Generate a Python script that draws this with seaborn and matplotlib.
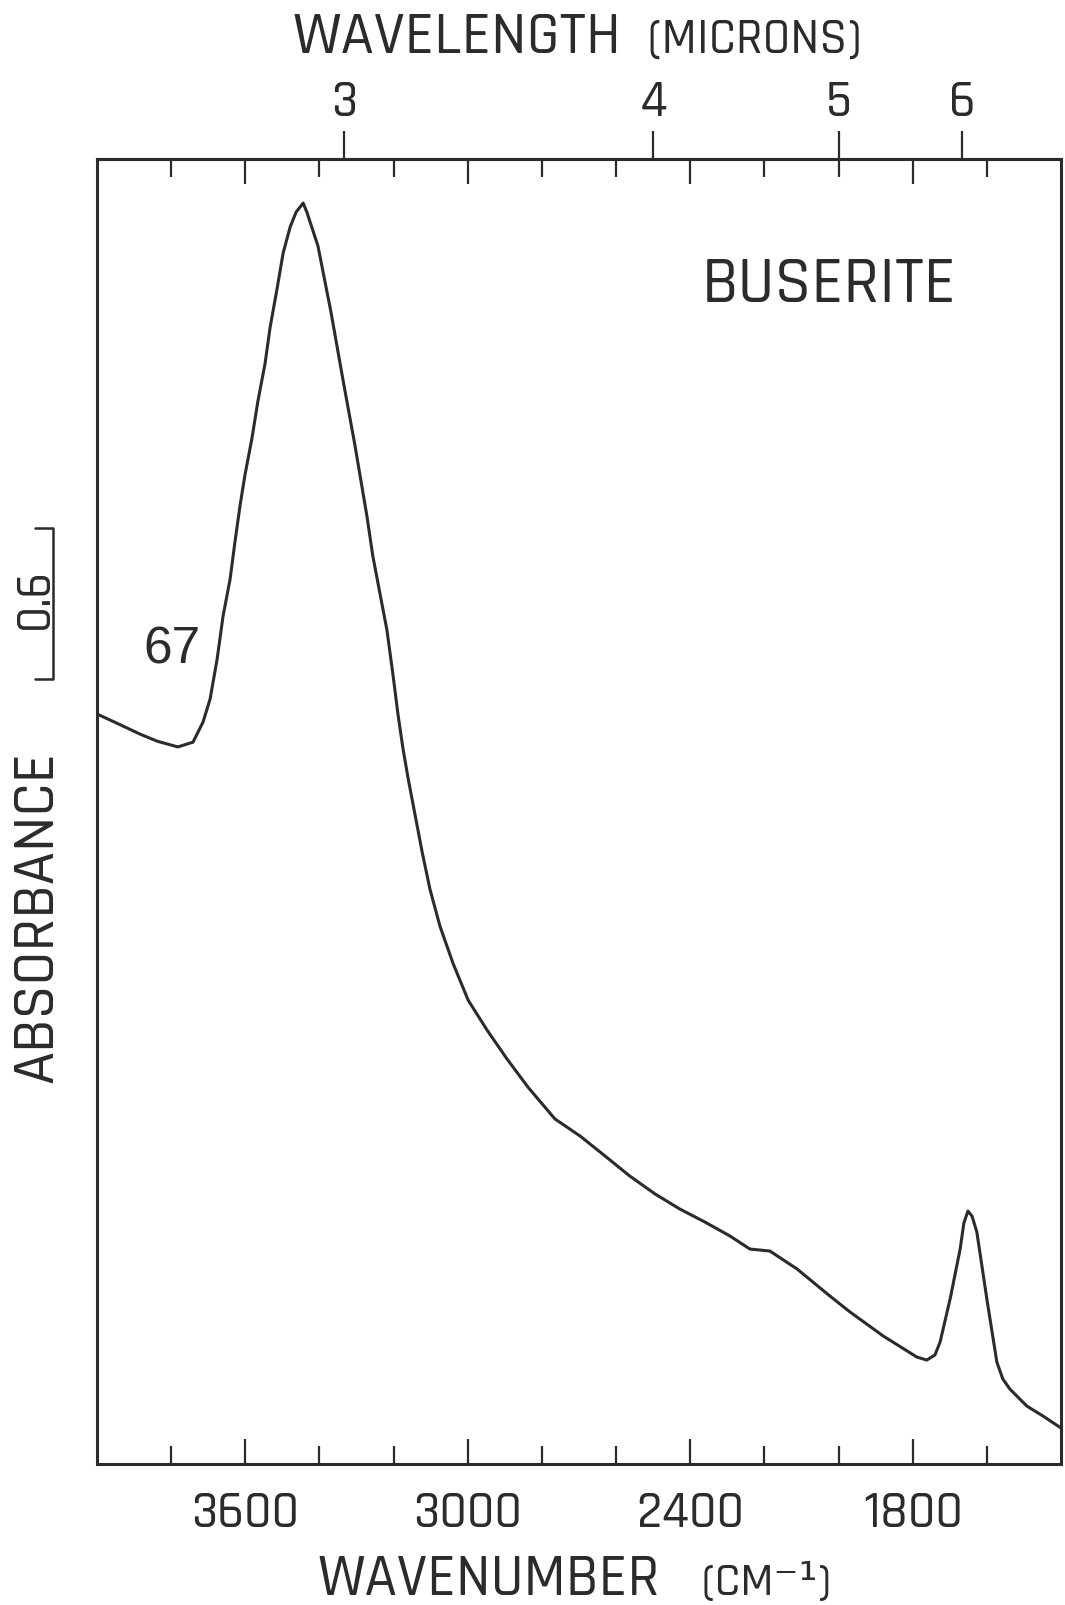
import numpy as np
import pandas as pd
import matplotlib
matplotlib.use("Agg")
import matplotlib.pyplot as plt
import matplotlib.transforms as mtransforms
from matplotlib.ticker import FixedLocator, NullLocator
import seaborn as sns

# IR absorbance spectrum of buserite (wavenumber in cm-1, absorbance with arbitrary offset)
wavenumber = [4000, 3930, 3884, 3838, 3782, 3741, 3714, 3695, 3676, 3660,
              3641, 3628, 3614, 3601, 3582, 3566, 3547, 3533, 3515, 3498,
              3479, 3463, 3444, 3434, 3404, 3369, 3337, 3304, 3272, 3256,
              3237, 3218, 3202, 3188, 3175, 3161, 3142, 3123, 3102, 3075,
              3040, 2999, 2948, 2894, 2838, 2765, 2697, 2630, 2563, 2495,
              2428, 2360, 2293, 2239, 2185, 2112, 2023, 1969, 1880, 1789,
              1762, 1740, 1726, 1699, 1672, 1662, 1651, 1640, 1627, 1600,
              1573, 1557, 1538, 1492, 1449, 1400]
absorbance = [2.980, 2.932, 2.900, 2.872, 2.849, 2.868, 2.948, 3.039, 3.198, 3.369,
              3.516, 3.663, 3.810, 3.929, 4.076, 4.223, 4.370, 4.517, 4.664, 4.811,
              4.915, 4.974, 5.010, 4.974, 4.839, 4.577, 4.311, 4.045, 3.766, 3.607,
              3.460, 3.313, 3.139, 2.976, 2.845, 2.725, 2.578, 2.431, 2.284, 2.137,
              1.990, 1.843, 1.724, 1.609, 1.498, 1.371, 1.303, 1.224, 1.144, 1.073,
              1.013, 0.961, 0.906, 0.854, 0.846, 0.775, 0.667, 0.604, 0.509, 0.425,
              0.413, 0.433, 0.485, 0.656, 0.854, 0.957, 1.005, 0.985, 0.922, 0.656,
              0.405, 0.338, 0.298, 0.230, 0.191, 0.143]

major_wavenumbers = [3600, 3000, 2400, 1800]
minor_wavenumbers = [3800, 3400, 3200, 2800, 2600, 2200, 2000, 1600]
major_labels = ["3600", "3000", "2400", "1800"]
wavelength_ticks = [3, 4, 5, 6]
wavelength_labels = ["3", "4", "5", "6"]

scale_bar_bottom = 3.119
scale_bar_size = 0.6

sample_name = "BUSERITE"
sample_number = "67"

INK = "#2b2b2b"
PLOTTER_FONT = ["Rajdhani", "DejaVu Sans"]

sns.set_theme(style="white")
plt.rcParams["font.family"] = PLOTTER_FONT
plt.rcParams["font.weight"] = 500
plt.rcParams["text.color"] = INK
plt.rcParams["xtick.color"] = INK

fig = plt.figure(figsize=(10.65, 16.06), dpi=100)
ax = fig.add_axes([0.09108, 0.08780, 0.90516, 0.81258])

df = pd.DataFrame({"wavenumber": wavenumber, "absorbance": absorbance})
sns.lineplot(data=df, x="wavenumber", y="absorbance", ax=ax, color=INK,
             linewidth=2.2, sort=False, estimator=None)

ax.set_xlim(4000, 1400)
ax.set_ylim(0, 5.185)
ax.set_xlabel("")
ax.set_ylabel("")
ax.set_yticks([])

for side in ["left", "right", "top", "bottom"]:
    ax.spines[side].set_visible(True)
    ax.spines[side].set_linewidth(2.2)
    ax.spines[side].set_color(INK)

# wavenumber ticks, drawn inward on bottom and top
ax.xaxis.set_major_locator(FixedLocator(major_wavenumbers))
ax.xaxis.set_minor_locator(FixedLocator(minor_wavenumbers))
ax.set_xticklabels(major_labels)
ax.tick_params(axis="x", which="both", direction="in", bottom=True, top=True,
               labeltop=False, width=1.6, color=INK)
ax.tick_params(axis="x", which="major", length=18, labelsize=38, pad=18)
ax.tick_params(axis="x", which="minor", length=13)


def wn_to_um(x):
    x = np.asarray(x, dtype=float)
    with np.errstate(divide="ignore"):
        return 1e4 / x


# wavelength scale on top
sec = ax.secondary_xaxis("top", functions=(wn_to_um, wn_to_um))
sec.xaxis.set_major_locator(FixedLocator(wavelength_ticks))
sec.xaxis.set_minor_locator(NullLocator())
sec.set_xticklabels(wavelength_labels)
sec.tick_params(axis="x", which="major", direction="out", length=20, width=1.6,
                color=INK, labelsize=38, pad=6)
sec.spines["top"].set_linewidth(2.2)
sec.spines["top"].set_color(INK)

# axis titles
fig.text(0.429, 0.967, "WAVELENGTH", fontsize=44, ha="center", va="baseline")
fig.text(0.709, 0.967, "(MICRONS)", fontsize=36, ha="center", va="baseline")
fig.text(0.459, 0.0069, "WAVENUMBER", fontsize=43, ha="center", va="baseline")
fig.text(0.720, 0.0069, "(CM⁻¹)", fontsize=34, ha="center", va="baseline")
fig.text(0.0338, 0.429, "ABSORBANCE", fontsize=44, rotation=90,
         ha="center", va="center")

# sample labels
ax.text(2026, 4.621, sample_name, fontsize=48, ha="center", va="baseline")
ax.text(3799, 3.186, sample_number, fontsize=37, ha="center", va="baseline",
        family=["Liberation Sans", "DejaVu Sans"], weight="normal")

# absorbance scale bar beside the frame
blend = mtransforms.blended_transform_factory(ax.transAxes, ax.transData)
bar_top = scale_bar_bottom + scale_bar_size
ax.plot([-0.0643, -0.0456, -0.0456, -0.0643],
        [bar_top, bar_top, scale_bar_bottom, scale_bar_bottom],
        transform=blend, color=INK, linewidth=1.8, clip_on=False)
ax.text(-0.0664, scale_bar_bottom + scale_bar_size * 0.54, f"{scale_bar_size:.1f}",
        transform=blend, rotation=90, fontsize=36, ha="center", va="center")

fig.savefig("out.png", dpi=100, facecolor="white")
